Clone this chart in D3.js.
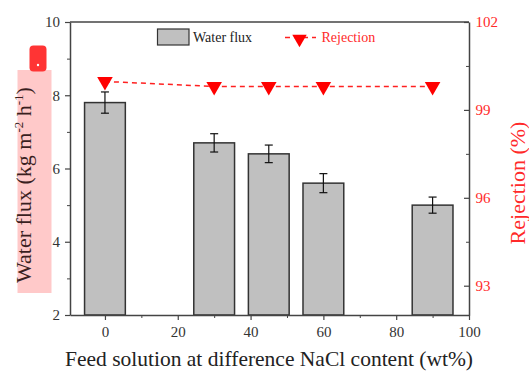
<!DOCTYPE html>
<html>
<head>
<meta charset="utf-8">
<script src="https://cdn.jsdelivr.net/npm/d3@7"></script>
<style>
  html, body { margin: 0; padding: 0; background: #fff; }
  svg { display: block; }
  svg text { font-family: "Liberation Serif", "DejaVu Serif", serif; }
</style>
</head>
<body>
<svg id="chart" width="529" height="371"></svg>
<script>
// NaCl content of the feed (wt%)
const nacl = [0, 30, 45, 60, 90];
// Water flux (kg m-2 h-1) and its error
const waterFlux = [7.8, 6.7, 6.4, 5.6, 5.0];
const fluxError = [0.29, 0.25, 0.24, 0.26, 0.22];
// Salt rejection (%)
const rejection = [99.97, 99.8, 99.8, 99.8, 99.8];

const xTicks = [0, 20, 40, 60, 80, 100];
const xMinor = [10, 30, 50, 70, 90];
const yLeftTicks = [2, 4, 6, 8, 10];
const yLeftMinor = [3, 5, 7, 9];
const yRightTicks = [93, 96, 99, 102];
const yRightMinor = [94.5, 97.5, 100.5];

const svg = d3.select("#chart");
const m = { left: 70, right: 469, top: 22, bottom: 315 };

const x = d3.scaleLinear().domain([-9.6, 100]).range([m.left, m.right]);
const yL = d3.scaleLinear().domain([2, 10]).range([m.bottom, m.top]);
const yR = d3.scaleLinear().domain([92, 102]).range([m.bottom, m.top]);

const axisColor = "#444";
const barWidthUnits = 11.2;

// Highlight marks beside the left axis title
svg.append("rect")
  .attr("x", 17.5).attr("y", 70).attr("width", 34).attr("height", 223)
  .attr("fill", "#ffc9c9");
svg.append("rect")
  .attr("x", 29.5).attr("y", 45.5).attr("width", 17).attr("height", 26)
  .attr("rx", 4).attr("fill", "#ff3434");
svg.append("circle")
  .attr("cx", 38).attr("cy", 65).attr("r", 1.2).attr("fill", "#fff");

// Bars
svg.append("g").selectAll("rect")
  .data(nacl)
  .join("rect")
  .attr("x", (d) => x(d - barWidthUnits / 2))
  .attr("y", (d, i) => yL(waterFlux[i]))
  .attr("width", (d) => x(d + barWidthUnits / 2) - x(d - barWidthUnits / 2))
  .attr("height", (d, i) => yL(2) - yL(waterFlux[i]))
  .attr("fill", "#c0c0c0")
  .attr("stroke", "#333")
  .attr("stroke-width", 1.5);

// Error bars
const eb = svg.append("g").attr("stroke", "#111").attr("stroke-width", 1.2);
nacl.forEach((d, i) => {
  const cx = x(d);
  const t = yL(waterFlux[i] + fluxError[i]);
  const b = yL(waterFlux[i] - fluxError[i]);
  eb.append("line").attr("x1", cx).attr("x2", cx).attr("y1", t).attr("y2", b);
  eb.append("line").attr("x1", cx - 4).attr("x2", cx + 4).attr("y1", t).attr("y2", t);
  eb.append("line").attr("x1", cx - 4).attr("x2", cx + 4).attr("y1", b).attr("y2", b);
});

// Rejection line
const line = d3.line().x((d) => x(d)).y((d, i) => yR(rejection[i]));
svg.append("path")
  .datum(nacl)
  .attr("d", line)
  .attr("fill", "none")
  .attr("stroke", "#ff2020")
  .attr("stroke-width", 1.5)
  .attr("stroke-dasharray", "5,4");

const tri = d3.symbol().type(d3.symbolTriangle).size(105);
const triSmall = d3.symbol().type(d3.symbolTriangle).size(90);
svg.append("g").selectAll("path")
  .data(nacl)
  .join("path")
  .attr("d", tri)
  .attr("transform", (d, i) => `translate(${x(d)},${yR(rejection[i])}) rotate(180)`)
  .attr("fill", "#ff0000");

// Frame
svg.append("line").attr("x1", m.left).attr("x2", m.right).attr("y1", m.top).attr("y2", m.top)
  .attr("stroke", axisColor).attr("stroke-width", 1.5);

function styleAxis(g, color) {
  g.attr("font-family", null);
  g.select(".domain").attr("stroke", axisColor).attr("stroke-width", 1.5);
  g.selectAll(".tick line").attr("stroke", axisColor).attr("stroke-width", 1.2);
  g.selectAll(".tick text").attr("fill", color).attr("font-size", 15)
    .attr("font-family", "Liberation Serif, DejaVu Serif, serif");
}

// Bottom axis
const gx = svg.append("g").attr("transform", `translate(0,${m.bottom})`)
  .call(d3.axisBottom(x).tickValues(xTicks).tickSize(5).tickSizeOuter(0).tickPadding(6));
styleAxis(gx, "#333");
svg.append("g").attr("transform", `translate(0,${m.bottom})`)
  .call(d3.axisBottom(x).tickValues(xMinor).tickSize(3).tickFormat("").tickSizeOuter(0))
  .call((g) => { g.select(".domain").remove(); g.selectAll("line").attr("stroke", axisColor); });

// Left axis
const gyl = svg.append("g").attr("transform", `translate(${m.left},0)`)
  .call(d3.axisLeft(yL).tickValues(yLeftTicks).tickSize(5).tickSizeOuter(0).tickPadding(5));
styleAxis(gyl, "#333");
svg.append("g").attr("transform", `translate(${m.left},0)`)
  .call(d3.axisLeft(yL).tickValues(yLeftMinor).tickSize(3).tickFormat("").tickSizeOuter(0))
  .call((g) => { g.select(".domain").remove(); g.selectAll("line").attr("stroke", axisColor); });

// Right axis
const gyr = svg.append("g").attr("transform", `translate(${m.right},0)`)
  .call(d3.axisRight(yR).tickValues(yRightTicks).tickSize(-5).tickSizeOuter(0).tickPadding(6.5));
styleAxis(gyr, "#ff2a2a");
svg.append("g").attr("transform", `translate(${m.right},0)`)
  .call(d3.axisRight(yR).tickValues(yRightMinor).tickSize(-3).tickFormat("").tickSizeOuter(0))
  .call((g) => { g.select(".domain").remove(); g.selectAll("line").attr("stroke", axisColor); });

// Axis titles
svg.append("text")
  .attr("x", 269).attr("y", 365.5)
  .attr("text-anchor", "middle")
  .attr("font-size", 21.5).attr("fill", "#222")
  .text("Feed solution at difference NaCl content (wt%)");

const yt = svg.append("text")
  .attr("transform", "translate(31,185) rotate(-90)")
  .attr("text-anchor", "middle")
  .attr("font-size", 22).attr("fill", "#3a1f1f");
yt.append("tspan").text("Water flux (kg m");
yt.append("tspan").attr("font-size", 13).attr("dy", -8).text("-2");
yt.append("tspan").attr("dy", 8).text(" h");
yt.append("tspan").attr("font-size", 13).attr("dy", -8).text("-1");
yt.append("tspan").attr("dy", 8).text(")");

svg.append("text")
  .attr("transform", "translate(525,183) rotate(-90)")
  .attr("text-anchor", "middle")
  .attr("font-size", 22).attr("fill", "#ff2a2a")
  .text("Rejection (%)");

// Legend
const lg = svg.append("g");
lg.append("rect").attr("x", 157.5).attr("y", 29).attr("width", 31.5).attr("height", 16)
  .attr("fill", "#c0c0c0").attr("stroke", "#333").attr("stroke-width", 1.2);
lg.append("text").attr("x", 193).attr("y", 42).attr("font-size", 14).attr("fill", "#222")
  .text("Water flux");
lg.append("line").attr("x1", 285).attr("x2", 316).attr("y1", 37.5).attr("y2", 37.5)
  .attr("stroke", "#ff2020").attr("stroke-width", 1.5).attr("stroke-dasharray", "5,4");
lg.append("path").attr("d", triSmall).attr("transform", "translate(299.5,39) rotate(180)").attr("fill", "#ff0000");
lg.append("text").attr("x", 321.5).attr("y", 42).attr("font-size", 14).attr("fill", "#ff2a2a")
  .text("Rejection");
</script>
</body>
</html>
